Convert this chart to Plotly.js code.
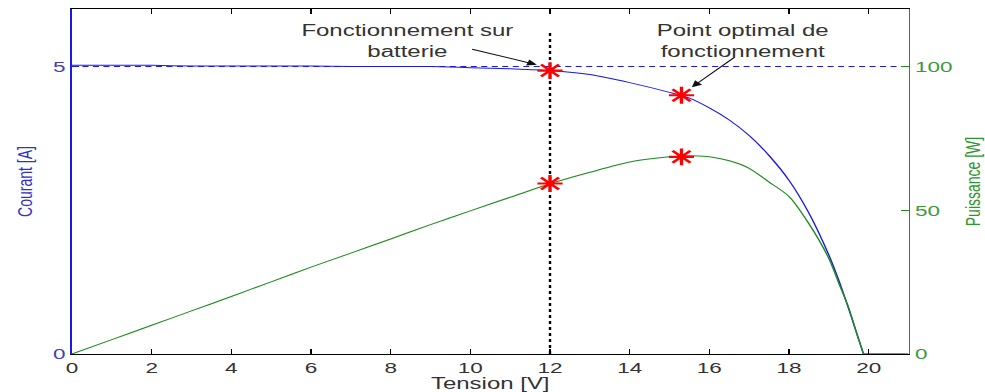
<!DOCTYPE html>
<html>
<head>
<meta charset="utf-8">
<script src="https://cdn.plot.ly/plotly-3.0.1.min.js"></script>
<style>
  html, body { margin: 0; padding: 0; background: #fff; }
  #wrap { width: 985px; height: 392px; overflow: hidden; }
  #plot { width: 657px; height: 392px; transform: scaleX(1.49924); transform-origin: 0 0; }
</style>
</head>
<body>
<div id="wrap"><div id="plot"></div></div>
<script>
// Tension [V] and current [A] of the I-V curve
const voltage = [0, 1, 2, 3, 4, 5, 6, 7, 8, 9, 10, 11, 12, 13, 14, 15, 15.5, 16, 16.5, 17, 17.5, 18, 18.5, 19, 19.25, 19.5, 19.7, 19.87];
const current = [5.02, 5.02, 5.02, 5.01, 5.01, 5.01, 5.01, 5.0, 5.0, 5.0, 4.98, 4.96, 4.93, 4.86, 4.72, 4.55, 4.45, 4.28, 4.07, 3.8, 3.45, 3.02, 2.45, 1.72, 1.28, 0.78, 0.36, 0];
// Power [W] of the P-V curve
const voltageP = [0, 1, 2, 3, 4, 5, 6, 7, 8, 9, 10, 11, 12, 13, 14, 15, 15.5, 16, 16.5, 17, 17.5, 18, 18.5, 19, 19.25, 19.5, 19.7, 19.87];
const power = [0, 5.0, 10.0, 15.0, 20.0, 25.1, 30.2, 35.1, 40.0, 45.0, 49.8, 54.5, 59.2, 63.2, 66.8, 68.6, 69.0, 68.6, 67.2, 64.6, 59.8, 54.8, 45.3, 33.2, 24.6, 16.0, 7.1, 0];
// Power stays at zero beyond the open-circuit voltage
const tailV = [19.87, 21];
const tailP = [0, 0];
// Reference lines
const refCurrentX = [0, 21];
const refCurrentY = [5, 5];
const batteryX = [12, 12];
const batteryY = [0, 5.59];
// Marked operating points
const starV = [12, 15.3];
const starI = [4.93, 4.5];
const starP = [59.3, 68.6];
// Ticks
const xTicks = [0, 2, 4, 6, 8, 10, 12, 14, 16, 18, 20];
const yTicks = [0, 5];
const y2Ticks = [0, 50, 100];
// Texts
const labelBattery = 'Fonctionnement sur<br>batterie';
const labelOptimal = 'Point optimal de<br>fonctionnement';

const BLUE = '#1a1ae6';
const GREEN = '#1e8c1e';
const FONT = 'Liberation Sans, Arial, sans-serif';

const traces = [
  { x: refCurrentX, y: refCurrentY, mode: 'lines', yaxis: 'y',
    line: { color: BLUE, width: 1, dash: '4px,3px' }, hoverinfo: 'skip' },
  { x: batteryX, y: batteryY, mode: 'lines', yaxis: 'y',
    line: { color: '#000', width: 1.6, dash: 'dot' }, hoverinfo: 'skip' },
  { x: voltage, y: current, mode: 'lines', yaxis: 'y',
    line: { color: BLUE, width: 1, shape: 'spline', smoothing: 0.8 } },
  { x: voltageP, y: power, mode: 'lines', yaxis: 'y2',
    line: { color: GREEN, width: 1, shape: 'spline', smoothing: 0.8 } },
  { x: tailV, y: tailP, mode: 'lines', yaxis: 'y2',
    line: { color: GREEN, width: 1.4 } },
  { x: starV, y: starI, mode: 'markers', yaxis: 'y', cliponaxis: false,
    marker: { symbol: 'asterisk-open', size: 14, color: '#ff0000', line: { color: '#ff0000', width: 2.2 } } },
  { x: starV, y: starP, mode: 'markers', yaxis: 'y2', cliponaxis: false,
    marker: { symbol: 'asterisk-open', size: 14, color: '#ff0000', line: { color: '#ff0000', width: 2.2 } } }
];

const layout = {
  width: 657, height: 392,
  margin: { l: 48, r: 51, t: 9, b: 38 },
  paper_bgcolor: '#fff', plot_bgcolor: '#fff',
  showlegend: false,
  font: { family: FONT, size: 15, color: '#222' },
  xaxis: {
    range: [0, 21], tickvals: xTicks, ticktext: xTicks.map(String),
    ticks: 'inside', ticklen: 5, tickwidth: 1, tickcolor: '#000',
    showline: true, linecolor: '#000', linewidth: 1.3, mirror: 'ticks',
    showgrid: false, zeroline: false,
    tickfont: { family: FONT, size: 15, color: '#333' },
    title: { text: 'Tension [V]', font: { family: FONT, size: 16, color: '#333' }, standoff: 2 }
  },
  yaxis: {
    range: [0, 6], tickvals: yTicks, ticktext: yTicks.map(String),
    ticks: 'inside', ticklen: 5, tickwidth: 1, tickcolor: BLUE,
    showline: true, linecolor: BLUE, linewidth: 1.3, mirror: false,
    showgrid: false, zeroline: false,
    tickfont: { family: FONT, size: 15, color: '#4040b8' },
    title: { text: 'Courant [A]', font: { family: FONT, size: 14, color: '#3030cc' }, standoff: 10 }
  },
  yaxis2: {
    range: [0, 120], tickvals: y2Ticks, ticktext: y2Ticks.map(String),
    overlaying: 'y', side: 'right', anchor: 'x',
    ticks: 'inside', ticklen: 5, tickwidth: 1, tickcolor: GREEN,
    showline: true, linecolor: GREEN, linewidth: 1.3,
    showgrid: false, zeroline: false,
    tickfont: { family: FONT, size: 15, color: '#3a9a3a' },
    title: { text: 'Puissance [W]', font: { family: FONT, size: 14, color: '#2e962e' }, standoff: 10 }
  },
  annotations: [
    { x: 8.43, y: 5.45, xref: 'x', yref: 'y', text: labelBattery, showarrow: false,
      font: { family: FONT, size: 16, color: '#333' }, align: 'center' },
    { x: 16.84, y: 5.45, xref: 'x', yref: 'y', text: labelOptimal, showarrow: false,
      font: { family: FONT, size: 16, color: '#333' }, align: 'center' },
    { x: 11.67, y: 5.03, ax: 9.99, ay: 5.31, xref: 'x', yref: 'y', axref: 'x', ayref: 'y',
      text: '', showarrow: true, arrowhead: 2, arrowsize: 1.3, arrowwidth: 1, arrowcolor: '#111' },
    { x: 15.56, y: 4.64, ax: 16.69, ay: 5.19, xref: 'x', yref: 'y', axref: 'x', ayref: 'y',
      text: '', showarrow: true, arrowhead: 2, arrowsize: 1.3, arrowwidth: 1, arrowcolor: '#111' }
  ]
};

Plotly.newPlot('plot', traces, layout, { displayModeBar: false, staticPlot: true });
</script>
</body>
</html>
